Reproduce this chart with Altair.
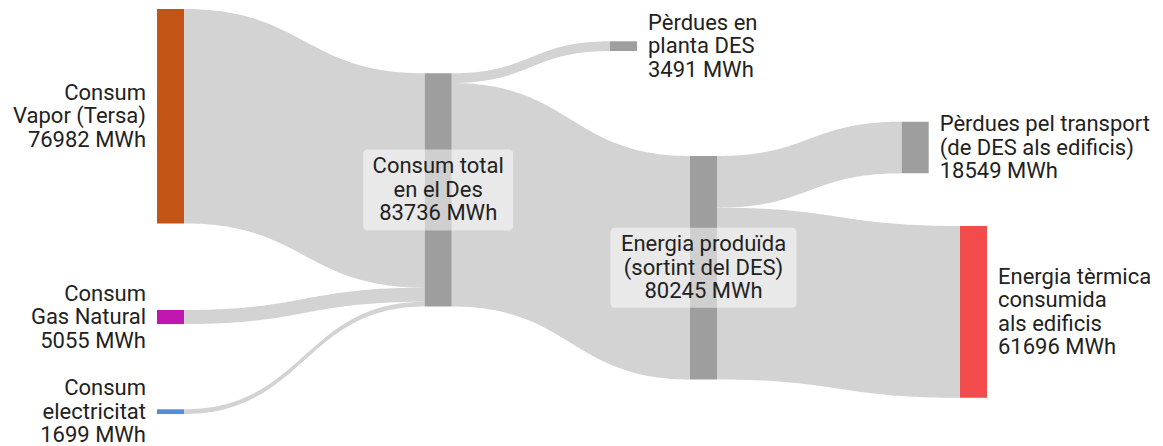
import altair as alt
import numpy as np
import pandas as pd

# ---------------- data ----------------
node_names = [
    "Consum\nVapor (Tersa)",
    "Consum\nGas Natural",
    "Consum\nelectricitat",
    "Consum total\nen el Des",
    "Pèrdues en\nplanta DES",
    "Energia produïda\n(sortint del DES)",
    "Pèrdues pel transport\n(de DES als edificis)",
    "Energia tèrmica\nconsumida\nals edificis",
]
link_source = [0, 1, 2, 3, 3, 5, 5]
link_target = [3, 3, 3, 4, 5, 6, 7]
link_value = [76982, 5055, 1699, 3491, 80245, 18549, 61696]
unit = "MWh"

# ---------------- layout / style ----------------
W, H = 1147, 438          # plot area in px
PX_PER_UNIT = 0.002785    # vertical px per MWh
NODE_W = 27
node_x_px = [149, 149, 149, 416.7, 602, 682, 893.7, 952]
node_top_px = [1, 302, 401.3, 65.3, 33.3, 148, 113.7, 218]
node_colors = ["#c25416", "#bf16b0", "#588cd6", "#9e9e9e", "#9e9e9e",
               "#9e9e9e", "#9e9e9e", "#f24b4c"]
link_color = "#d3d3d3"
label_side = ["left", "left", "left", "center", "right", "center", "right", "right"]
box_size = {3: (150, 81), 5: (186, 80)}
FONT = "Roboto"
FS = 22
LH = 23.5

YMAX = H / PX_PER_UNIT
xs = lambda px: px / W
ys = lambda px: px / PX_PER_UNIT
nw = xs(NODE_W)

n = len(node_names)
vin = [0] * n
vout = [0] * n
for s, t, v in zip(link_source, link_target, link_value):
    vout[s] += v
    vin[t] += v
node_val = [max(a, b) for a, b in zip(vin, vout)]

nodes = pd.DataFrame({
    "i": range(n),
    "x": [xs(p) for p in node_x_px],
    "x2": [xs(p) + nw for p in node_x_px],
    "y": [ys(p) for p in node_top_px],
})
nodes["y2"] = nodes["y"] + node_val
nodes["yc"] = (nodes["y"] + nodes["y2"]) / 2
nodes["xc"] = (nodes["x"] + nodes["x2"]) / 2
nodes["color"] = node_colors
labels = [f"{nm}\n{v} {unit}" for nm, v in zip(node_names, node_val)]
nodes["label"] = labels
nlines = [lb.count("\n") + 1 for lb in labels]
# first-line position so that the text block is centred on the node
nodes["yt"] = nodes["yc"] - [ys((k - 1) / 2 * LH) for k in nlines]
nodes["side"] = label_side

xscale = alt.Scale(domain=[0, 1], nice=False, zero=False)
yscale = alt.Scale(domain=[0, YMAX], nice=False, zero=False, reverse=True)

# link geometry (cubic bezier, horizontal tangents)
out_off = [0] * n
in_off = [0] * n
tt = np.linspace(0, 1, 80)
layers = []
for k, (s, t, v) in enumerate(zip(link_source, link_target, link_value)):
    x0 = float(nodes.loc[s, "x2"])
    x1 = float(nodes.loc[t, "x"])
    y0 = float(nodes.loc[s, "y"]) + out_off[s]
    y1 = float(nodes.loc[t, "y"]) + in_off[t]
    out_off[s] += v
    in_off[t] += v
    xm = (x0 + x1) / 2
    bx = (1 - tt) ** 3 * x0 + 3 * (1 - tt) ** 2 * tt * xm + 3 * (1 - tt) * tt ** 2 * xm + tt ** 3 * x1
    by = y0 + (y1 - y0) * (3 * tt ** 2 - 2 * tt ** 3)
    df = pd.DataFrame({"lx": bx.tolist(), "ly": by.tolist(), "ly2": (by + v).tolist()})
    layers.append(
        alt.Chart(df).mark_area(color=link_color, orient="vertical").encode(
            x=alt.X("lx:Q", scale=xscale, axis=None),
            y=alt.Y("ly:Q", scale=yscale, axis=None),
            y2=alt.Y2("ly2"),
        )
    )

node_layer = alt.Chart(nodes).mark_rect().encode(
    x=alt.X("x:Q", scale=xscale, axis=None),
    x2="x2:Q",
    y=alt.Y("y:Q", scale=yscale, axis=None),
    y2="y2:Q",
    color=alt.Color("color:N", scale=None),
)
layers.append(node_layer)

for i, (bw, bh) in box_size.items():
    layers.append(
        alt.Chart(nodes[nodes["i"] == i]).mark_rect(
            width=bw, height=bh, cornerRadius=4, color="white", opacity=0.5
        ).encode(
            x=alt.X("xc:Q", scale=xscale, axis=None),
            y=alt.Y("yc:Q", scale=yscale, axis=None),
        )
    )

text_common = dict(font=FONT, fontSize=FS, lineHeight=LH, color="#222222",
                   baseline="middle", lineBreak="\n")
layers.append(
    alt.Chart(nodes[nodes["side"] == "left"]).mark_text(align="right", dx=-11, **text_common).encode(
        x=alt.X("x:Q", scale=xscale, axis=None),
        y=alt.Y("yt:Q", scale=yscale, axis=None),
        text="label:N",
    )
)
layers.append(
    alt.Chart(nodes[nodes["side"] == "right"]).mark_text(align="left", dx=11, **text_common).encode(
        x=alt.X("x2:Q", scale=xscale, axis=None),
        y=alt.Y("yt:Q", scale=yscale, axis=None),
        text="label:N",
    )
)
layers.append(
    alt.Chart(nodes[nodes["side"] == "center"]).mark_text(align="center", **text_common).encode(
        x=alt.X("xc:Q", scale=xscale, axis=None),
        y=alt.Y("yt:Q", scale=yscale, axis=None),
        text="label:N",
    )
)

chart = alt.layer(*layers).properties(
    width=W, height=H, padding=0, background="white",
    autosize=alt.AutoSizeParams(type="none"),
).configure_view(stroke=None)

chart.save("out.html", embed_options={"renderer": "svg", "actions": False})
